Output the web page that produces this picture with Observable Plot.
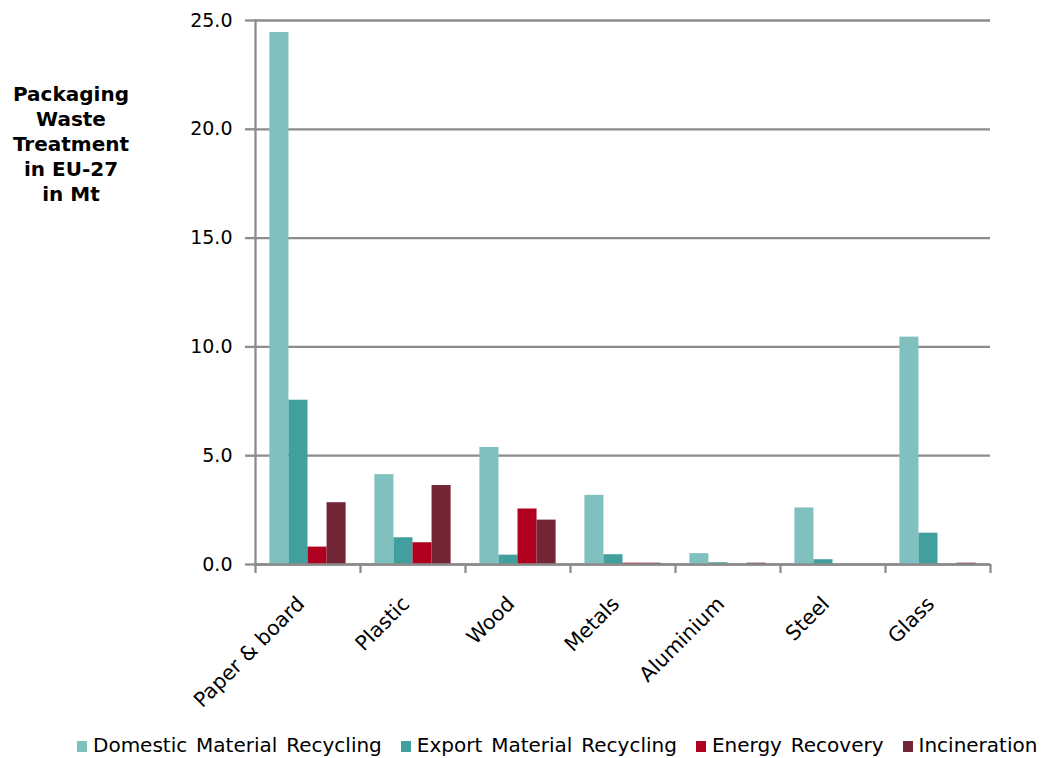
<!DOCTYPE html>
<html><head><meta charset="utf-8">
<script src="https://cdn.jsdelivr.net/npm/d3@7"></script>
<script src="https://cdn.jsdelivr.net/npm/@observablehq/plot@0.6"></script>
<style>
body{margin:0;background:#fff;font-family:"DejaVu Sans",Verdana,sans-serif;color:#000;}
#wrap{position:relative;width:1056px;height:758px;overflow:hidden;}
#chart{position:absolute;left:0;top:0;}
#ytitle{position:absolute;left:0;top:82px;width:142px;text-align:center;font-weight:bold;font-size:20px;line-height:25px;}
#legend{position:absolute;left:77px;top:734px;display:flex;white-space:nowrap;font-size:20px;line-height:22px;word-spacing:2.5px;}
#legend .item{margin-right:19px;}
#legend .sw{display:inline-block;width:10px;height:11px;margin-right:6px;vertical-align:baseline;}
</style>
</head><body>
<div id="wrap">
  <div id="chart"></div>
  <div id="ytitle">Packaging<br>Waste<br>Treatment<br>in EU-27<br>in Mt</div>
  <div id="legend"></div>
</div>
<script>
const categories = ["Paper & board", "Plastic", "Wood", "Metals", "Aluminium", "Steel", "Glass"];
const seriesNames = ["Domestic Material Recycling", "Export Material Recycling", "Energy Recovery", "Incineration"];
const domestic     = [24.45, 4.13, 5.38, 3.18, 0.50, 2.60, 10.45];
const exported     = [7.55, 1.23, 0.43, 0.45, 0.08, 0.22, 1.44];
const energy       = [0.80, 1.00, 2.55, 0.06, 0.00, 0.00, 0.00];
const incineration = [2.84, 3.63, 2.04, 0.06, 0.06, 0.00, 0.06];
const colors = ["#80c1bf", "#41a09e", "#b00020", "#722636"];
const yTicks = [0, 5, 10, 15, 20, 25];

const seriesValues = [domestic, exported, energy, incineration];
const rows = categories.flatMap((c, i) => seriesNames.map((s, j) => ({category: c, series: s, value: seriesValues[j][i]})));

const W = 1056, H = 725, ML = 255, MR = 66, MT = 20, MB = 161;
const bw = (W - ML - MR) / categories.length;
const pad = bw * 0.137;
const barW = (bw - 2 * pad) / seriesNames.length;
const grey = "#8c8c8c";

const plot = Plot.plot({
  width: W, height: H,
  marginLeft: ML, marginRight: MR, marginTop: MT, marginBottom: MB,
  style: {fontFamily: "DejaVu Sans, Verdana, sans-serif", fontSize: "19px", color: "#000", background: "#fff"},
  x: {domain: categories, padding: 0, label: null},
  y: {domain: [0, 25], label: null},
  marks: [
    Plot.gridY(yTicks, {stroke: grey, strokeOpacity: 1, strokeWidth: 2.3}),
    ...seriesNames.map((s, j) => Plot.barY(rows.filter(d => d.series === s), {
      x: "category", y: "value", fill: colors[j],
      insetLeft: pad + j * barW, insetRight: bw - pad - (j + 1) * barW
    })),
    Plot.ruleY([0], {stroke: grey, strokeWidth: 2.3}),
    Plot.frame({anchor: "left", stroke: grey, strokeWidth: 2.3}),
    Plot.ruleX(categories, {x: d => d, dx: -bw / 2, insetTop: H - MT - MB, insetBottom: -9, stroke: grey, strokeWidth: 2.3}),
    Plot.ruleX([categories[categories.length - 1]], {x: d => d, dx: bw / 2, insetTop: H - MT - MB, insetBottom: -9, stroke: grey, strokeWidth: 2.3}),
    Plot.axisY({ticks: yTicks, tickFormat: d3.format(".1f"), tickSize: 10, tickPadding: 13, stroke: grey, strokeWidth: 2.3, fontSize: 19, label: null}),
    Plot.axisX({tickSize: 0, tickRotate: -45, tickPadding: 36, dx: -7, fontSize: 20.5, label: null})
  ]
});
document.getElementById("chart").appendChild(plot);

const legend = document.getElementById("legend");
seriesNames.forEach((s, j) => {
  const item = document.createElement("span");
  item.className = "item";
  const sw = document.createElement("span");
  sw.className = "sw";
  sw.style.background = colors[j];
  item.appendChild(sw);
  item.appendChild(document.createTextNode(s));
  legend.appendChild(item);
});
</script>
</body></html>
